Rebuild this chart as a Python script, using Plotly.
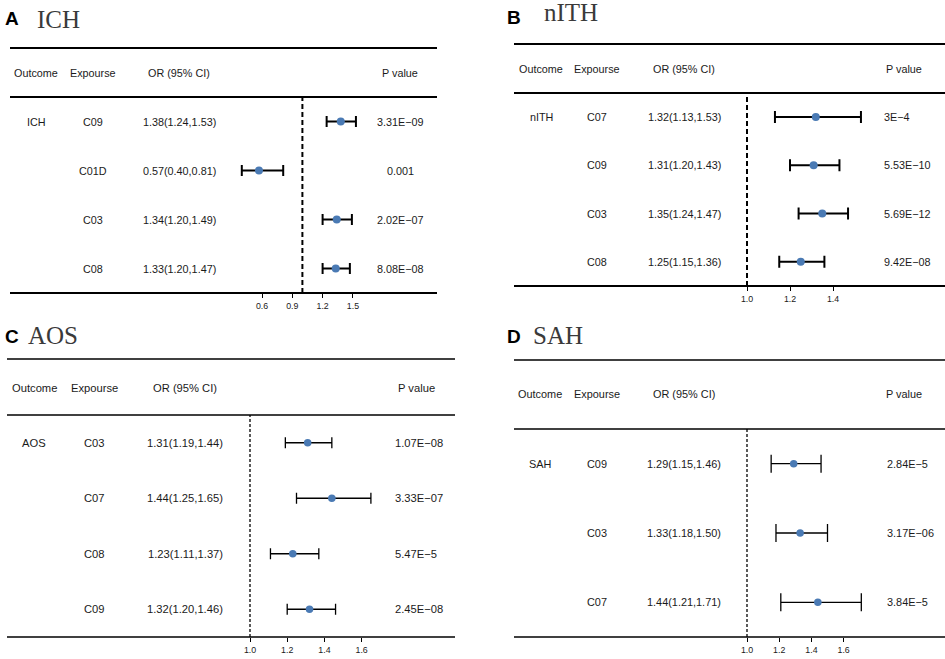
import plotly.graph_objects as go

# ---------------- data ----------------
a_outcome = "ICH"
a_exposure = ["C09", "C01D", "C03", "C08"]
a_or = [1.38, 0.57, 1.34, 1.33]
a_lo = [1.24, 0.40, 1.20, 1.20]
a_hi = [1.53, 0.81, 1.49, 1.47]
a_p = ["3.31E\u221209", "0.001", "2.02E\u221207", "8.08E\u221208"]
a_ticks = [0.6, 0.9, 1.2, 1.5]

b_outcome = "nITH"
b_exposure = ["C07", "C09", "C03", "C08"]
b_or = [1.32, 1.31, 1.35, 1.25]
b_lo = [1.13, 1.20, 1.24, 1.15]
b_hi = [1.53, 1.43, 1.47, 1.36]
b_p = ["3E\u22124", "5.53E\u221210", "5.69E\u221212", "9.42E\u221208"]
b_ticks = [1.0, 1.2, 1.4]

c_outcome = "AOS"
c_exposure = ["C03", "C07", "C08", "C09"]
c_or = [1.31, 1.44, 1.23, 1.32]
c_lo = [1.19, 1.25, 1.11, 1.20]
c_hi = [1.44, 1.65, 1.37, 1.46]
c_p = ["1.07E\u221208", "3.33E\u221207", "5.47E\u22125", "2.45E\u221208"]
c_ticks = [1.0, 1.2, 1.4, 1.6]

d_outcome = "SAH"
d_exposure = ["C09", "C03", "C07"]
d_or = [1.29, 1.33, 1.44]
d_lo = [1.15, 1.18, 1.21]
d_hi = [1.46, 1.50, 1.71]
d_p = ["2.84E\u22125", "3.17E\u221206", "3.84E\u22125"]
d_ticks = [1.0, 1.2, 1.4, 1.6]

headers = ["Outcome", "Expourse", "OR (95% CI)", "P value"]

# ---------------- style / layout ----------------
W, H = 945, 659
BLUE = "#4a7ab4"
TXT = "#1a1a1a"
SANS = "Liberation Sans, Arial, sans-serif"
SERIF = "Liberation Serif, Times New Roman, serif"


def px(x):
    return x / W


def py(y):
    return 1 - y / H


panels = [
    dict(letter="A", outcome=a_outcome, exp=a_exposure, orv=a_or, lo=a_lo, hi=a_hi, p=a_p, ticks=a_ticks,
         letter_xy=(3, 19), title_xy=(35, 20),
         lines=(48, 97, 293), lx=(10, 437), header_y=73,
         cols=(36, 93, 179, 400), p_anchor="center",
         one_px=302.4, ppu=101.0, rng=(0.3, 1.9),
         lw=2, dash="5px,3px", ms=8, cap=5.5, fs=10.8),
    dict(letter="B", outcome=b_outcome, exp=b_exposure, orv=b_or, lo=b_lo, hi=b_hi, p=b_p, ticks=b_ticks,
         letter_xy=(505, 18), title_xy=(542, 13),
         lines=(44, 93, 286), lx=(514, 945), header_y=69,
         cols=(541, 597, 684, 882), p_anchor="left", p_head=904,
         one_px=747.0, ppu=215.0, rng=(0.7, 1.9),
         lw=2, dash="5px,3px", ms=8, cap=6, fs=10.8),
    dict(letter="C", outcome=c_outcome, exp=c_exposure, orv=c_or, lo=c_lo, hi=c_hi, p=c_p, ticks=c_ticks,
         letter_xy=(3, 336), title_xy=(26, 335),
         lines=(359, 415, 637), lx=(7, 455), header_y=388,
         cols=(34, 94, 185, 393), p_anchor="left", p_head=416,
         one_px=250.0, ppu=186.0, rng=(0.7, 1.9),
         lw=1.3, dash="3px,2px", ms=7.5, cap=5.5, fs=11.2),
    dict(letter="D", outcome=d_outcome, exp=d_exposure, orv=d_or, lo=d_lo, hi=d_hi, p=d_p, ticks=d_ticks,
         letter_xy=(505, 336), title_xy=(531, 335.5),
         lines=(360, 429, 637), lx=(514, 945), header_y=394,
         cols=(540, 597, 684, 885), p_anchor="left", p_head=904,
         one_px=747.0, ppu=161.0, rng=(0.7, 1.9),
         lw=1.3, dash="3px,2px", ms=7.5, cap=9, fs=10.9),
]

fig = go.Figure()
shapes = []
annotations = []
layout_axes = {}

for i, pnl in enumerate(panels):
    k = "" if i == 0 else str(i + 1)
    xa, ya = "x" + k, "y" + k
    n = len(pnl["exp"])
    rows = list(range(n))

    fig.add_trace(go.Scatter(
        x=pnl["orv"], y=rows, mode="markers",
        marker=dict(color=BLUE, size=pnl["ms"], line=dict(width=0)),
        error_x=dict(type="data", symmetric=False,
                     array=[h - o for h, o in zip(pnl["hi"], pnl["orv"])],
                     arrayminus=[o - l for o, l in zip(pnl["orv"], pnl["lo"])],
                     color="black", thickness=pnl["lw"], width=pnl["cap"]),
        xaxis=xa, yaxis=ya, showlegend=False, hoverinfo="skip"))

    r0, r1 = pnl["rng"]
    x0px = pnl["one_px"] + (r0 - 1) * pnl["ppu"]
    x1px = pnl["one_px"] + (r1 - 1) * pnl["ppu"]
    top_l, mid_l, bot_l = pnl["lines"]

    layout_axes["xaxis" + k] = dict(
        domain=[px(x0px), px(x1px)], range=[r0, r1], anchor=ya,
        tickvals=pnl["ticks"], ticktext=[f"{t:.1f}" for t in pnl["ticks"]],
        ticks="outside", ticklen=4, tickwidth=1, tickcolor="black",
        showgrid=False, zeroline=False, showline=False,
        tickfont=dict(family=SANS, size=8.8, color=TXT), fixedrange=True)
    layout_axes["yaxis" + k] = dict(
        domain=[py(bot_l), py(mid_l)], range=[n - 0.5, -0.5], anchor=xa,
        visible=False, fixedrange=True)

    # horizontal rules
    for yl in pnl["lines"]:
        shapes.append(dict(type="line", xref="paper", yref="paper",
                           x0=px(pnl["lx"][0]), x1=px(pnl["lx"][1]), y0=py(yl), y1=py(yl),
                           line=dict(color="black", width=pnl["lw"])))
    # reference line at OR = 1
    shapes.append(dict(type="line", xref=xa, yref=ya + " domain", x0=1, x1=1, y0=0, y1=1,
                       line=dict(color="black", width=pnl["lw"], dash=pnl["dash"])))

    # panel titles
    annotations.append(dict(text="<b>" + pnl["letter"] + "</b>", xref="paper", yref="paper",
                            x=px(pnl["letter_xy"][0]), y=py(pnl["letter_xy"][1]),
                            xanchor="left", yanchor="middle", showarrow=False,
                            font=dict(family=SANS, size=19, color="black")))
    annotations.append(dict(text=pnl["outcome"], xref="paper", yref="paper",
                            x=px(pnl["title_xy"][0]), y=py(pnl["title_xy"][1]),
                            xanchor="left", yanchor="middle", showarrow=False,
                            font=dict(family=SERIF, size=25, color="#3a3a3a")))

    # header row
    cols = pnl["cols"]
    head_x = [cols[0], cols[1], cols[2], pnl.get("p_head", cols[3])]
    for hx, htxt in zip(head_x, headers):
        annotations.append(dict(text=htxt, xref="paper", yref="paper", x=px(hx), y=py(pnl["header_y"]),
                                xanchor="center", yanchor="middle", showarrow=False,
                                font=dict(family=SANS, size=pnl["fs"], color=TXT)))

    # body rows
    font = dict(family=SANS, size=pnl["fs"], color=TXT)
    annotations.append(dict(text=pnl["outcome"], xref="paper", yref=ya, x=px(cols[0]), y=0,
                            xanchor="center", yanchor="middle", showarrow=False, font=font))
    for r in rows:
        ci = f"{pnl['orv'][r]:.2f}({pnl['lo'][r]:.2f},{pnl['hi'][r]:.2f})"
        annotations.append(dict(text=pnl["exp"][r], xref="paper", yref=ya, x=px(cols[1]), y=r,
                                xanchor="center", yanchor="middle", showarrow=False, font=font))
        annotations.append(dict(text=ci, xref="paper", yref=ya, x=px(cols[2]), y=r,
                                xanchor="center", yanchor="middle", showarrow=False, font=font))
        annotations.append(dict(text=pnl["p"][r], xref="paper", yref=ya, x=px(cols[3]), y=r,
                                xanchor=pnl["p_anchor"], yanchor="middle", showarrow=False, font=font))

fig.update_layout(
    width=W, height=H, margin=dict(l=0, r=0, t=0, b=0),
    paper_bgcolor="white", plot_bgcolor="rgba(0,0,0,0)",
    shapes=shapes, annotations=annotations, **layout_axes)

fig.write_html("out.html", config={"displayModeBar": False, "staticPlot": True},
               post_script="document.body.style.margin='0';document.body.style.overflow='hidden';")
